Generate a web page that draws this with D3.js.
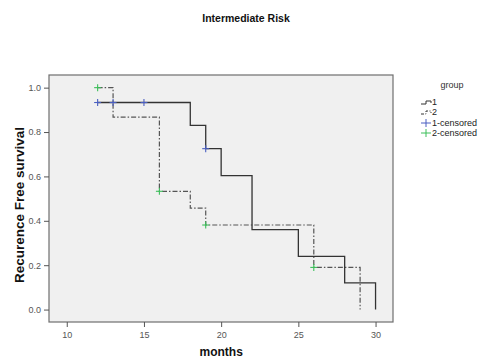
<!DOCTYPE html>
<html>
<head>
<meta charset="utf-8">
<script src="https://cdn.jsdelivr.net/npm/d3@7"></script>
<style>
  body { margin: 0; background: #fff; }
  svg { display: block; font-family: "Liberation Sans", Arial, sans-serif; }
</style>
</head>
<body>
<div id="chart"></div>
<script>
// Kaplan-Meier steps: [time, survival]
const group1Steps = [[12, 0.933], [18, 0.830], [19, 0.725], [20, 0.604], [22, 0.360], [25, 0.240], [28, 0.120], [30, 0.0]];
const group2Steps = [[12, 1.0], [13, 0.867], [16, 0.533], [18, 0.457], [19, 0.381], [26, 0.190], [29, 0.0]];
const group1Censored = [[12, 0.933], [13, 0.933], [15, 0.933], [19, 0.725]];
const group2Censored = [[12, 1.0], [16, 0.533], [19, 0.381], [26, 0.190]];
const xTicks = [10, 15, 20, 25, 30];
const yTicks = [0, 0.2, 0.4, 0.6, 0.8, 1.0];
const legendItems = ['1', '2', '1-censored', '2-censored'];

const width = 489, height = 362;
const margin = { top: 75, right: 96, bottom: 40, left: 49 };

const svg = d3.select('#chart').append('svg')
  .attr('width', width)
  .attr('height', height);

const innerW = width - margin.left - margin.right;
const innerH = height - margin.top - margin.bottom;

const x = d3.scaleLinear().domain([8.85, 31.13]).range([0, innerW]);
const y = d3.scaleLinear().domain([-0.056, 1.057]).range([innerH, 0]);

const g = svg.append('g').attr('transform', `translate(${margin.left},${margin.top})`);

// Plot background
g.append('rect')
  .attr('width', innerW)
  .attr('height', innerH)
  .attr('fill', '#f0f0f0')
  .attr('stroke', '#6e6e6e')
  .attr('stroke-width', 1.2);

// Axes
const xAxis = g.append('g')
  .attr('transform', `translate(0,${innerH})`)
  .call(d3.axisBottom(x).tickValues(xTicks).tickSize(5).tickSizeOuter(0).tickFormat(d3.format('d')));
const yAxis = g.append('g')
  .call(d3.axisLeft(y).tickValues(yTicks).tickSize(5).tickSizeOuter(0).tickFormat(d3.format('.1f')));

[xAxis, yAxis].forEach(a => {
  a.select('.domain').remove();
  a.selectAll('.tick line').attr('stroke', '#555');
  a.selectAll('.tick text')
    .attr('fill', '#555')
    .attr('font-size', '9px');
});
xAxis.selectAll('.tick text').attr('dy', '0.9em');

// Step lines
const stepLine = d3.line()
  .x(d => x(d[0]))
  .y(d => y(d[1]))
  .curve(d3.curveStepAfter);

g.append('path')
  .datum(group2Steps)
  .attr('d', stepLine)
  .attr('fill', 'none')
  .attr('stroke', '#555')
  .attr('stroke-width', 1.2)
  .attr('stroke-dasharray', '5,2,1.5,2');

g.append('path')
  .datum(group1Steps)
  .attr('d', stepLine)
  .attr('fill', 'none')
  .attr('stroke', '#333')
  .attr('stroke-width', 1.3);

// Censor marks
function drawCensored(data, color) {
  const s = 3.5;
  const m = g.append('g').selectAll('g').data(data).enter().append('g')
    .attr('transform', d => `translate(${x(d[0])},${y(d[1])})`);
  m.append('line').attr('x1', -s).attr('x2', s).attr('stroke', color).attr('stroke-width', 1.1);
  m.append('line').attr('y1', -s).attr('y2', s).attr('stroke', color).attr('stroke-width', 1.1);
}
drawCensored(group1Censored, '#4a5fc1');
drawCensored(group2Censored, '#3cbf5a');

// Title and labels
svg.append('text')
  .attr('x', 246).attr('y', 22)
  .attr('text-anchor', 'middle')
  .attr('font-size', '10.5px').attr('font-weight', 'bold')
  .attr('fill', '#111')
  .text('Intermediate Risk');

svg.append('text')
  .attr('transform', `translate(24,205) rotate(-90)`)
  .attr('text-anchor', 'middle')
  .attr('font-size', '13.5px').attr('font-weight', 'bold')
  .attr('fill', '#111')
  .text('Recurence Free survival');

svg.append('text')
  .attr('x', margin.left + x(20)).attr('y', 356)
  .attr('text-anchor', 'middle')
  .attr('font-size', '12px').attr('font-weight', 'bold')
  .attr('fill', '#111')
  .text('months');

// Legend
const lg = svg.append('g').attr('transform', 'translate(420,0)');
lg.append('text')
  .attr('x', 32).attr('y', 88)
  .attr('text-anchor', 'middle')
  .attr('font-size', '9px').attr('fill', '#333')
  .text('group');

const legendY = [102, 112, 123, 133];
legendItems.forEach((label, i) => {
  const yy = legendY[i];
  const item = lg.append('g');
  if (i < 2) {
    item.append('path')
      .attr('d', `M1,${yy + 2}H6V${yy - 1}H11V${yy + 1}`)
      .attr('fill', 'none')
      .attr('stroke', '#333')
      .attr('stroke-width', 1)
      .attr('stroke-dasharray', i === 1 ? '3,1.5,1,1.5' : null);
  } else {
    const col = i === 2 ? '#4a5fc1' : '#3cbf5a';
    item.append('line').attr('x1', 1).attr('x2', 11).attr('y1', yy).attr('y2', yy).attr('stroke', col);
    item.append('line').attr('x1', 6).attr('x2', 6).attr('y1', yy - 4).attr('y2', yy + 4).attr('stroke', col);
  }
  item.append('text')
    .attr('x', 12).attr('y', yy + 3)
    .attr('font-size', '9px').attr('fill', '#222')
    .text(label);
});
</script>
</body>
</html>
